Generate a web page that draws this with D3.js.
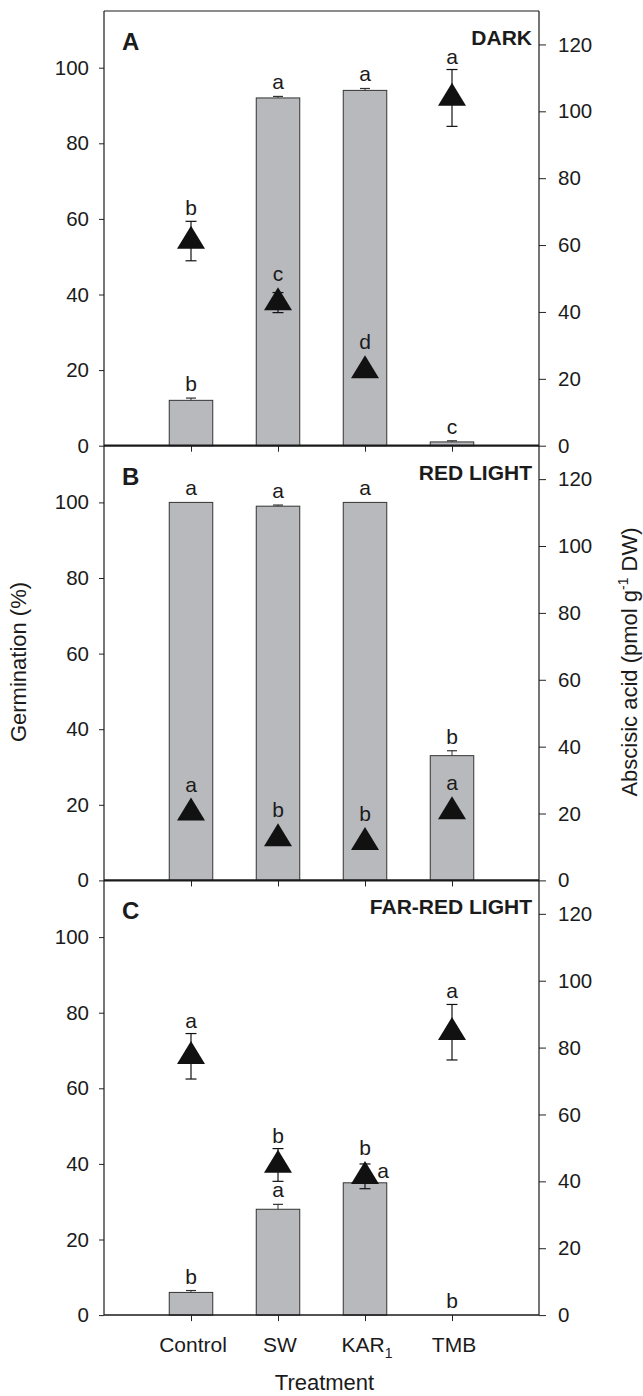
<!DOCTYPE html>
<html><head><meta charset="utf-8">
<script src="https://cdn.jsdelivr.net/npm/d3@7"></script>
<style>
body{margin:0;background:#fff}
svg text{font-family:"Liberation Sans",Arial,Helvetica,sans-serif;fill:#1b1b1b}
</style>
</head><body><svg id="chart" width="643" height="1396"></svg>
<script>
// ---------------- data ----------------
const categories = ["Control", "SW", "KAR", "TMB"];
const categorySubscripts = ["", "", "1", ""];
const panelLetters = ["A", "B", "C"];
const conditions = ["DARK", "RED LIGHT", "FAR-RED LIGHT"];
const germTicks = [0, 20, 40, 60, 80, 100];
const abaTicks = [0, 20, 40, 60, 80, 100, 120];

// Germination (%) — bars
const germDark = [12, 92, 94, 1];
const germDarkErr = [0.6, 0.4, 0.5, 0.3];
const germDarkLetters = ["b", "a", "a", "c"];
const germRed = [100, 99, 100, 33];
const germRedErr = [0, 0.3, 0, 1.3];
const germRedLetters = ["a", "a", "a", "b"];
const germFarRed = [6, 28, 35, 0];
const germFarRedErr = [0.5, 1.3, 1, 0];
const germFarRedLetters = ["b", "a", "a", "b"];

// Abscisic acid (pmol g-1 DW) — triangles
const abaDark = [61.2, 42.8, 22.5, 104];
const abaDarkErr = [5.9, 3, 1, 8.5];
const abaDarkLetters = ["b", "c", "d", "a"];
const abaRed = [20.2, 12.5, 11.4, 20.6];
const abaRedErr = [1.5, 1.5, 1.5, 1.5];
const abaRedLetters = ["a", "b", "b", "a"];
const abaFarRed = [77.4, 44.9, 41.5, 84.6];
const abaFarRedErr = [6.8, 4.9, 3.7, 8.3];
const abaFarRedLetters = ["a", "b", "b", "a"];

const panelData = [
  {germ: germDark, germErr: germDarkErr, germL: germDarkLetters, aba: abaDark, abaErr: abaDarkErr, abaL: abaDarkLetters},
  {germ: germRed, germErr: germRedErr, germL: germRedLetters, aba: abaRed, abaErr: abaRedErr, abaL: abaRedLetters},
  {germ: germFarRed, germErr: germFarRedErr, germL: germFarRedLetters, aba: abaFarRed, abaErr: abaFarRedErr, abaL: abaFarRedLetters}
];

// ---------------- layout ----------------
const svg = d3.select("#chart");
const left = 104, right = 539, top0 = 11, panelH = 434.7;
const x = d3.scaleLinear().domain([0, 5]).range([left, right]);
const barW = x(0.5) - x(0);
const triUp = 15.3, triDown = 7.7, triHalf = 14;

panelData.forEach((pd, p) => {
  const top = top0 + p * panelH, bottom = top + panelH;
  const yL = d3.scaleLinear().domain([0, 115]).range([bottom, top]);
  const yR = d3.scaleLinear().domain([0, 130]).range([bottom, top]);
  const g = svg.append("g");

  // left axis
  const ax = g.append("g").attr("transform", `translate(${left},0)`)
    .call(d3.axisLeft(yL).tickValues(germTicks).tickSize(5).tickPadding(10));
  ax.select(".domain").remove();
  ax.selectAll("text").attr("font-size", 20.5).attr("font-family", "Liberation Sans, Arial, sans-serif").attr("fill", "#1b1b1b");
  ax.selectAll("line").attr("stroke", "#222");

  // right axis
  const axr = g.append("g").attr("transform", `translate(${right},0)`)
    .call(d3.axisRight(yR).tickValues(abaTicks).tickSize(7).tickPadding(12));
  axr.select(".domain").remove();
  axr.selectAll("text").attr("font-size", 20.5).attr("font-family", "Liberation Sans, Arial, sans-serif").attr("fill", "#1b1b1b");
  axr.selectAll("line").attr("stroke", "#222");

  // bottom ticks
  const axb = g.append("g").attr("transform", `translate(0,${bottom})`)
    .call(d3.axisBottom(x).tickValues([1, 2, 3, 4]).tickSize(6).tickFormat(""));
  axb.select(".domain").remove();
  axb.selectAll("line").attr("stroke", "#222");

  // bars
  categories.forEach((c, i) => {
    const cx = x(i + 1);
    const v = pd.germ[i];
    if (v > 0) {
      g.append("rect").attr("x", cx - barW / 2).attr("y", yL(v))
        .attr("width", barW).attr("height", yL(0) - yL(v))
        .attr("fill", "#b8b9bc").attr("stroke", "#333").attr("stroke-width", 1);
    }
    if (pd.germErr[i] > 0) {
      const yt = yL(v + pd.germErr[i]);
      g.append("line").attr("x1", cx).attr("x2", cx).attr("y1", yL(v)).attr("y2", yt).attr("stroke", "#333");
      g.append("line").attr("x1", cx - 5).attr("x2", cx + 5).attr("y1", yt).attr("y2", yt).attr("stroke", "#333").attr("stroke-width", 1.2);
    }
  });

  // zero line
  g.append("line").attr("x1", left).attr("x2", right).attr("y1", bottom).attr("y2", bottom)
    .attr("stroke", "#1a1a1a").attr("stroke-width", p < 2 ? 2.2 : 1.5);

  // ABA error bars + triangles
  categories.forEach((c, i) => {
    const cx = x(i + 1), v = pd.aba[i], e = pd.abaErr[i];
    const cy = yR(v);
    const y1 = yR(v + e), y2 = yR(v - e);
    g.append("line").attr("x1", cx).attr("x2", cx).attr("y1", y1).attr("y2", y2).attr("stroke", "#111").attr("stroke-width", 1.2);
    [y1, y2].forEach(yy => g.append("line").attr("x1", cx - 5.5).attr("x2", cx + 5.5).attr("y1", yy).attr("y2", yy).attr("stroke", "#111").attr("stroke-width", 1.2));
    g.append("path")
      .attr("d", `M${cx},${cy - triUp}L${cx + triHalf},${cy + triDown}L${cx - triHalf},${cy + triDown}Z`)
      .attr("fill", "#111");
  });

  // letters
  categories.forEach((c, i) => {
    const cx = x(i + 1);
    const v = pd.aba[i], e = pd.abaErr[i];
    const apex = yR(v) - triUp;
    const abaTop = Math.min(apex, yR(v + e));
    g.append("text").attr("x", cx).attr("y", abaTop - 6).attr("text-anchor", "middle")
      .attr("font-size", 21).text(pd.abaL[i]);
    const bv = pd.germ[i];
    const barTop = yL(bv + pd.germErr[i]);
    let by = barTop - 7, bx = cx;
    const triTop = apex, triBot = yR(v) + triDown;
    if (by > triTop && by - 14 < triBot) { // collides with triangle -> place to the right
      bx = cx + 18; by = yL(bv) - 5;
    }
    g.append("text").attr("x", bx).attr("y", by).attr("text-anchor", "middle")
      .attr("font-size", 21).text(pd.germL[i]);
  });

  // panel letter & condition
  g.append("text").attr("x", 122).attr("y", top + 39).attr("font-size", 24).attr("font-weight", "bold").text(panelLetters[p]);
  g.append("text").attr("x", 532).attr("y", top + 34).attr("text-anchor", "end").attr("font-size", 21).attr("font-weight", "bold").text(conditions[p]);
});

// frame
const yEnd = top0 + 3 * panelH;
svg.append("line").attr("x1", left).attr("x2", left).attr("y1", top0).attr("y2", yEnd).attr("stroke", "#1a1a1a").attr("stroke-width", 1.2);
svg.append("line").attr("x1", right).attr("x2", right).attr("y1", top0).attr("y2", yEnd).attr("stroke", "#1a1a1a").attr("stroke-width", 1.2);
svg.append("line").attr("x1", left).attr("x2", right).attr("y1", top0).attr("y2", top0).attr("stroke", "#1a1a1a").attr("stroke-width", 1.2);

// category labels
const catG = svg.append("g");
categories.forEach((c, i) => {
  const t = catG.append("text").attr("x", x(i + 1) + 2).attr("y", yEnd + 36.7)
    .attr("text-anchor", "middle").attr("font-size", 21);
  t.append("tspan").text(c);
  if (categorySubscripts[i]) t.append("tspan").attr("font-size", 14).attr("dy", 6).text(categorySubscripts[i]);
});

// axis titles
svg.append("text").attr("x", (left + right) / 2 + 3).attr("y", 1390).attr("text-anchor", "middle").attr("font-size", 22).text("Treatment");
svg.append("text").attr("transform", `translate(26,662) rotate(-90)`).attr("text-anchor", "middle").attr("font-size", 22).text("Germination (%)");
const rt = svg.append("text").attr("transform", `translate(637,662) rotate(-90)`).attr("text-anchor", "middle").attr("font-size", 22);
rt.append("tspan").text("Abscisic acid (pmol g");
rt.append("tspan").attr("font-size", 14).attr("dy", -9).text("-1");
rt.append("tspan").attr("dy", 9).text(" DW)");
</script>
</body></html>
